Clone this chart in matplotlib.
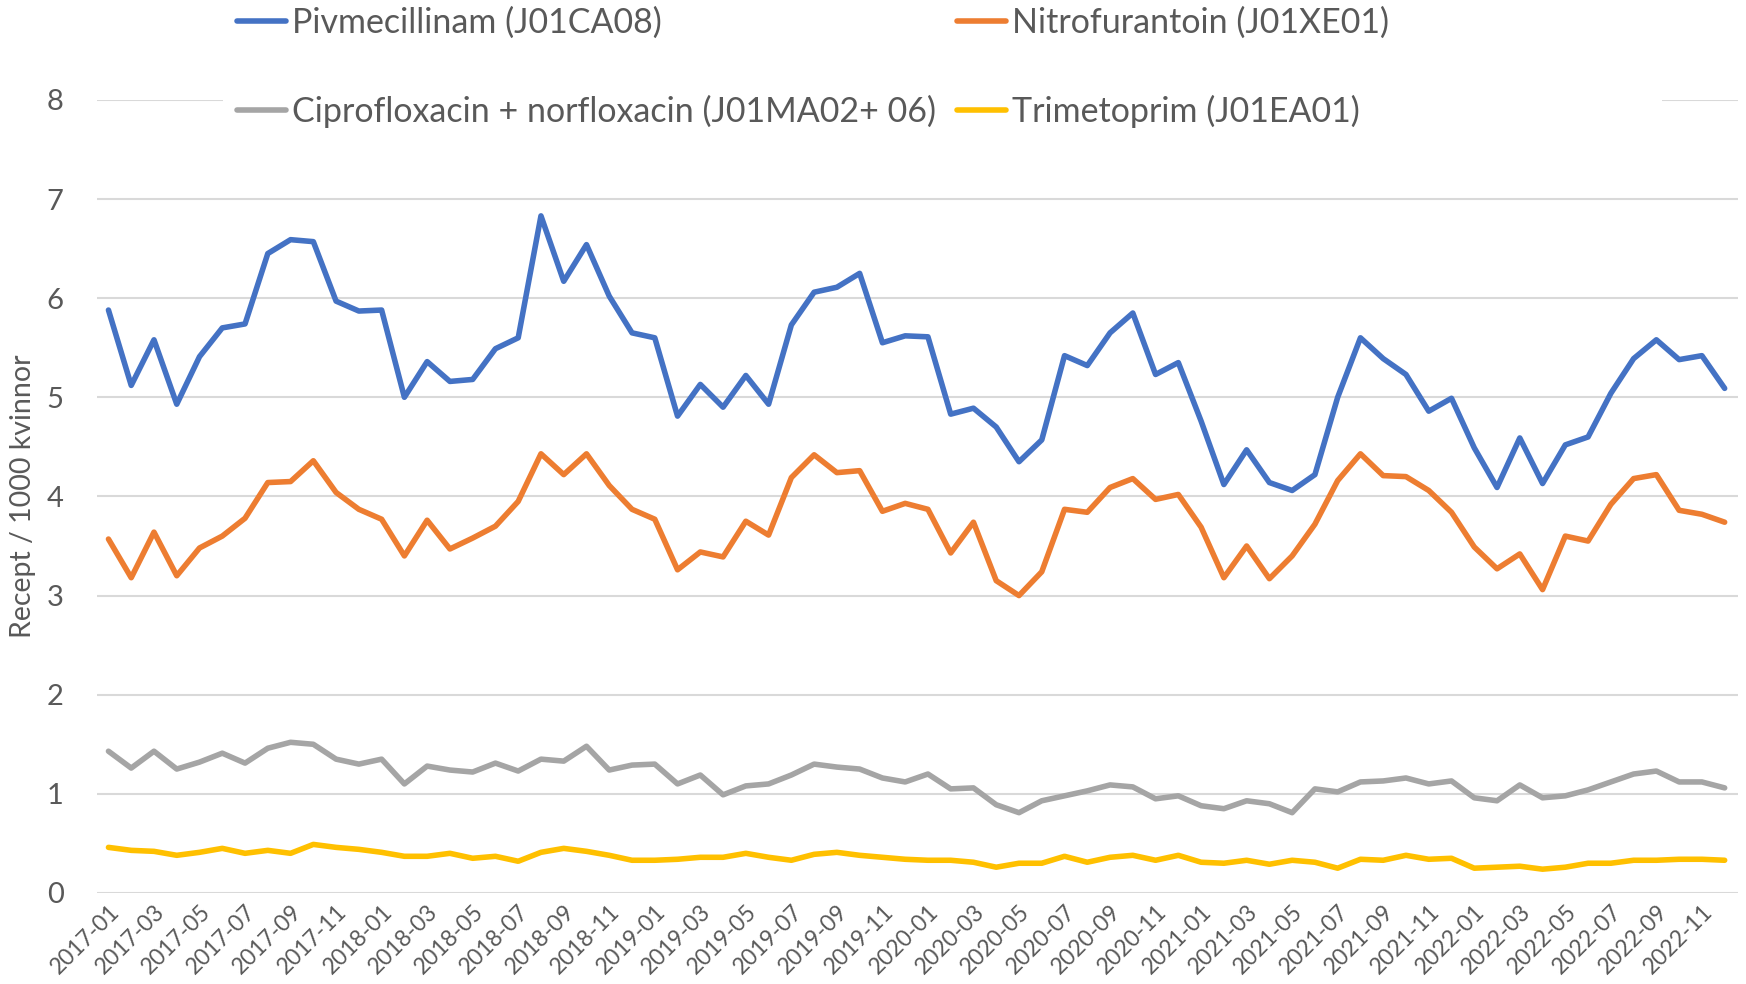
import matplotlib.pyplot as plt
from matplotlib.patches import Rectangle

plt.rcParams['font.family'] = ['Lato', 'DejaVu Sans']

months = [f'{y}-{m:02d}' for y in range(2017, 2023) for m in range(1, 13)]

pivmecillinam = [5.88, 5.12, 5.58, 4.93, 5.41, 5.70, 5.74, 6.45, 6.59, 6.57, 5.97, 5.87,
                 5.88, 5.00, 5.36, 5.16, 5.18, 5.49, 5.60, 6.83, 6.17, 6.54, 6.02, 5.65,
                 5.60, 4.81, 5.13, 4.90, 5.22, 4.93, 5.73, 6.06, 6.11, 6.25, 5.55, 5.62,
                 5.61, 4.83, 4.89, 4.70, 4.35, 4.57, 5.42, 5.32, 5.65, 5.85, 5.23, 5.35,
                 4.76, 4.12, 4.47, 4.14, 4.06, 4.22, 5.00, 5.60, 5.39, 5.23, 4.86, 4.99,
                 4.49, 4.09, 4.59, 4.13, 4.52, 4.60, 5.04, 5.39, 5.58, 5.38, 5.42, 5.09]
nitrofurantoin = [3.57, 3.18, 3.64, 3.20, 3.48, 3.60, 3.78, 4.14, 4.15, 4.36, 4.04, 3.87,
                  3.77, 3.40, 3.76, 3.47, 3.58, 3.70, 3.95, 4.43, 4.22, 4.43, 4.11, 3.87,
                  3.77, 3.26, 3.44, 3.39, 3.75, 3.61, 4.19, 4.42, 4.24, 4.26, 3.85, 3.93,
                  3.87, 3.43, 3.74, 3.15, 3.00, 3.24, 3.87, 3.84, 4.09, 4.18, 3.97, 4.02,
                  3.69, 3.18, 3.50, 3.17, 3.40, 3.72, 4.16, 4.43, 4.21, 4.20, 4.06, 3.84,
                  3.49, 3.27, 3.42, 3.06, 3.60, 3.55, 3.92, 4.18, 4.22, 3.86, 3.82, 3.74]
cipro_norflox = [1.43, 1.26, 1.43, 1.25, 1.32, 1.41, 1.31, 1.46, 1.52, 1.50, 1.35, 1.30,
                 1.35, 1.10, 1.28, 1.24, 1.22, 1.31, 1.23, 1.35, 1.33, 1.48, 1.24, 1.29,
                 1.30, 1.10, 1.19, 0.99, 1.08, 1.10, 1.19, 1.30, 1.27, 1.25, 1.16, 1.12,
                 1.20, 1.05, 1.06, 0.89, 0.81, 0.93, 0.98, 1.03, 1.09, 1.07, 0.95, 0.98,
                 0.88, 0.85, 0.93, 0.90, 0.81, 1.05, 1.02, 1.12, 1.13, 1.16, 1.10, 1.13,
                 0.96, 0.93, 1.09, 0.96, 0.98, 1.04, 1.12, 1.20, 1.23, 1.12, 1.12, 1.06]
trimetoprim = [0.46, 0.43, 0.42, 0.38, 0.41, 0.45, 0.40, 0.43, 0.40, 0.49, 0.46, 0.44,
               0.41, 0.37, 0.37, 0.40, 0.35, 0.37, 0.32, 0.41, 0.45, 0.42, 0.38, 0.33,
               0.33, 0.34, 0.36, 0.36, 0.40, 0.36, 0.33, 0.39, 0.41, 0.38, 0.36, 0.34,
               0.33, 0.33, 0.31, 0.26, 0.30, 0.30, 0.37, 0.31, 0.36, 0.38, 0.33, 0.38,
               0.31, 0.30, 0.33, 0.29, 0.33, 0.31, 0.25, 0.34, 0.33, 0.38, 0.34, 0.35,
               0.25, 0.26, 0.27, 0.24, 0.26, 0.30, 0.30, 0.33, 0.33, 0.34, 0.34, 0.33]

series = [
    ('Pivmecillinam (J01CA08)', pivmecillinam, '#4472C4'),
    ('Ciprofloxacin + norfloxacin (J01MA02+ 06)', cipro_norflox, '#A5A5A5'),
    ('Nitrofurantoin (J01XE01)', nitrofurantoin, '#ED7D31'),
    ('Trimetoprim (J01EA01)', trimetoprim, '#FFC000'),
]

txt = '#595959'
fig = plt.figure(figsize=(17.46, 9.84), dpi=100)
ax = fig.add_axes([0.0556, 0.0925, 0.940, 0.806])

x = list(range(len(months)))
for label, vals, col in series:
    ax.plot(x, vals, color=col, linewidth=4, label=label, solid_joinstyle='round',
            solid_capstyle='round')

ax.set_xlim(-0.5, len(months) - 0.4)
ax.set_ylim(0, 8)
ax.set_yticks(range(0, 9))
ax.yaxis.grid(True, color='#D9D9D9', linewidth=1.5)
ax.set_axisbelow(True)
for s in ax.spines.values():
    s.set_visible(False)
ax.tick_params(axis='both', length=0, colors=txt)
ax.tick_params(axis='y', labelsize=21, pad=24)
ax.set_xticks(x[::2])
ax.set_xticklabels(months[::2], rotation=45, ha='right', rotation_mode='anchor',
                   fontsize=16.5)
ax.tick_params(axis='x', pad=6)
ax.set_ylabel('Recept / 1000 kvinnor', fontsize=20.5, color=txt, labelpad=8)

# white band behind legend (hides the top gridline like the original)
fig.patches.append(Rectangle((0.128, 0.862), 0.824, 0.07, transform=fig.transFigure,
                             facecolor='white', edgecolor='none', zorder=1))

leg = fig.legend(loc='upper left', bbox_to_anchor=(0.118, 1.0245), ncol=2, frameon=False,
                 fontsize=24.5, handlelength=1.45, handletextpad=0.18, columnspacing=0.6,
                 labelspacing=1.66)
for t in leg.get_texts():
    t.set_color(txt)

fig.savefig('out.png', dpi=100)
